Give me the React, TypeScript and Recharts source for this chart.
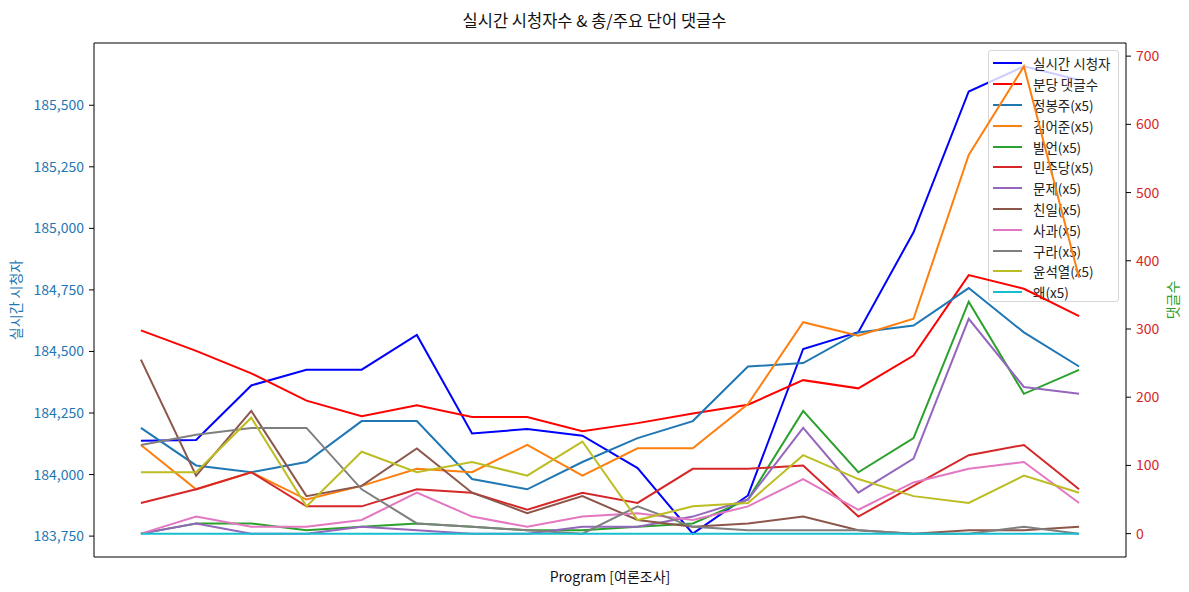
import React from "react";
import { LineChart, Line, XAxis, YAxis, ReferenceLine } from "recharts";

const slots = [0, 1, 2, 3, 4, 5, 6, 7, 8, 9, 10, 11, 12, 13, 14, 15, 16, 17];

// left axis
const viewers = [184137, 184140, 184362, 184426, 184426, 184567, 184167, 184185, 184158, 184026, 183760, 183915, 184510, 184578, 184984, 185556, 185658, 185603];

// right axis
const perMinute = [298, 268, 235, 195, 172, 188, 171, 171, 150, 162, 176, 189, 225, 213, 261, 379, 359, 319];
const jeongBongJu = [155, 100, 90, 105, 165, 165, 80, 65, 105, 140, 165, 245, 250, 295, 305, 360, 295, 245];
const kimEoJun = [130, 65, 90, 50, 70, 95, 90, 130, 85, 125, 125, 190, 310, 290, 315, 555, 685, 375];
const balEon = [0, 15, 15, 5, 10, 15, 10, 5, 5, 10, 15, 50, 180, 90, 140, 340, 205, 240];
const minjudang = [45, 65, 90, 40, 40, 65, 60, 35, 60, 45, 95, 95, 100, 25, 70, 115, 130, 65];
const munje = [0, 15, 0, 0, 10, 5, 0, 0, 10, 10, 25, 50, 155, 60, 110, 315, 215, 205];
const chinil = [255, 85, 180, 55, 70, 125, 60, 30, 55, 20, 10, 15, 25, 5, 0, 5, 5, 10];
const sagwa = [0, 25, 10, 10, 20, 60, 25, 10, 25, 30, 20, 40, 80, 35, 75, 95, 105, 45];
const gura = [130, 145, 155, 155, 65, 15, 10, 5, 0, 40, 10, 5, 5, 5, 0, 0, 10, 0];
const yoonSeokYeol = [90, 90, 170, 40, 120, 90, 105, 85, 135, 20, 40, 45, 115, 80, 55, 45, 85, 60];
const wae = [0, 0, 0, 0, 0, 0, 0, 0, 0, 0, 0, 0, 0, 0, 0, 0, 0, 0];

const leftTicks = [183750, 184000, 184250, 184500, 184750, 185000, 185250, 185500];
const rightTicks = [0, 100, 200, 300, 400, 500, 600, 700];

const WORDS = [
  { key: "w0", name: "정봉주(x5)", color: "#1f77b4", values: jeongBongJu },
  { key: "w1", name: "김어준(x5)", color: "#ff7f0e", values: kimEoJun },
  { key: "w2", name: "발언(x5)", color: "#2ca02c", values: balEon },
  { key: "w3", name: "민주당(x5)", color: "#d62728", values: minjudang },
  { key: "w4", name: "문제(x5)", color: "#9467bd", values: munje },
  { key: "w5", name: "친일(x5)", color: "#8c564b", values: chinil },
  { key: "w6", name: "사과(x5)", color: "#e377c2", values: sagwa },
  { key: "w7", name: "구라(x5)", color: "#7f7f7f", values: gura },
  { key: "w8", name: "윤석열(x5)", color: "#bcbd22", values: yoonSeokYeol },
  { key: "w9", name: "왜(x5)", color: "#17becf", values: wae },
];

const LEGEND = [
  { name: "실시간 시청자", color: "#0000ff" },
  { name: "분당 댓글수", color: "#ff0000" },
  ...WORDS.map((w) => ({ name: w.name, color: w.color })),
];

const rows = slots.map((s, i) => {
  const row: Record<string, number> = { slot: s, viewers: viewers[i], perMinute: perMinute[i] };
  WORDS.forEach((w) => (row[w.key] = w.values[i]));
  return row;
});

// matplotlib-style 5% margins
const pad = (lo: number, hi: number): [number, number] => [lo - (hi - lo) * 0.05, hi + (hi - lo) * 0.05];
const leftDomain = pad(Math.min(...viewers), Math.max(...viewers));
const rightDomain = pad(0, Math.max(...WORDS.flatMap((w) => w.values), ...perMinute));
const xDomain = pad(0, slots.length - 1);

const FONT = "'Noto Sans CJK KR', 'Noto Sans', sans-serif";
const W = 1189;
const H = 592;
const MARGIN = { top: 43, right: 0, bottom: 0, left: 0 };

// axes shared by both layers; `show` false keeps the same geometry but draws nothing
function axes(show: boolean) {
  return [
    <XAxis key="x" dataKey="slot" type="number" domain={xDomain} ticks={[]} tick={false} tickLine={false} height={35} axisLine={show ? { stroke: "#000" } : false} />,
    <YAxis
      key="yl"
      yAxisId="left"
      width={94}
      domain={leftDomain}
      ticks={leftTicks}
      allowDataOverflow
      tickSize={5}
      tickMargin={5}
      tickLine={show ? { stroke: "#000" } : false}
      axisLine={show ? { stroke: "#000" } : false}
      tick={show ? { fill: "#1f77b4", fontSize: 14, fontFamily: FONT } : false}
      tickFormatter={(v) => Number(v).toLocaleString("en-US")}
    />,
    <YAxis
      key="yr"
      yAxisId="right"
      orientation="right"
      width={63}
      domain={rightDomain}
      ticks={rightTicks}
      allowDataOverflow
      tickSize={5}
      tickMargin={5}
      tickLine={show ? { stroke: "#000" } : false}
      axisLine={show ? { stroke: "#000" } : false}
      tick={show ? { fill: "#d62728", fontSize: 14, fontFamily: FONT } : false}
    />,
  ];
}

function LegendBox() {
  return (
    <div
      style={{
        position: "absolute",
        left: 988,
        top: 50,
        width: 131,
        height: 252,
        boxSizing: "border-box",
        border: "1px solid #d6d6d6",
        borderRadius: 3,
        background: "rgba(255,255,255,0.8)",
        paddingTop: 2,
      }}
    >
      {LEGEND.map((e) => (
        <div key={e.name} style={{ display: "flex", alignItems: "center", height: 20.8 }}>
          <span style={{ display: "inline-block", marginLeft: 4, width: 29, height: 2, background: e.color }} />
          <span style={{ marginLeft: 11, fontSize: 13.5, color: "#222", whiteSpace: "nowrap" }}>{e.name}</span>
        </div>
      ))}
    </div>
  );
}

export default function App() {
  return (
    <div style={{ position: "absolute", left: 0, top: 0, width: W, height: H, background: "#fff", fontFamily: FONT }}>
      <div style={{ position: "absolute", left: 0, top: 8, width: W, textAlign: "center", fontSize: 16.5, lineHeight: "24px", color: "#111" }}>
        실시간 시청자수 &amp; 총/주요 단어 댓글수
      </div>

      {/* viewer axis layer (under the legend) */}
      <div style={{ position: "absolute", left: 0, top: 0 }}>
        <LineChart width={W} height={H} data={rows} margin={MARGIN}>
          {axes(true)}
          <ReferenceLine yAxisId="left" y={leftDomain[1]} stroke="#000" />
          <Line yAxisId="left" dataKey="viewers" stroke="#0000ff" strokeWidth={2} dot={false} isAnimationActive={false} />
        </LineChart>
      </div>

      <LegendBox />

      {/* comment axis layer (drawn over the legend) */}
      <div style={{ position: "absolute", left: 0, top: 0 }}>
        <LineChart width={W} height={H} data={rows} margin={MARGIN}>
          {axes(false)}
          <Line yAxisId="right" dataKey="perMinute" stroke="#ff0000" strokeWidth={2} dot={false} isAnimationActive={false} />
          {WORDS.map((w) => (
            <Line key={w.key} yAxisId="right" dataKey={w.key} name={w.name} stroke={w.color} strokeWidth={2} dot={false} isAnimationActive={false} />
          ))}
        </LineChart>
      </div>

      <div style={{ position: "absolute", left: 15, top: 300, transform: "translate(-50%, -50%) rotate(-90deg)", whiteSpace: "nowrap", fontSize: 14, color: "#1f77b4" }}>
        실시간 시청자
      </div>
      <div style={{ position: "absolute", left: 1172, top: 300, transform: "translate(-50%, -50%) rotate(-90deg)", whiteSpace: "nowrap", fontSize: 14, color: "#2ca02c" }}>
        댓글수
      </div>
      <div style={{ position: "absolute", left: 610, top: 576, transform: "translate(-50%, -50%)", whiteSpace: "nowrap", fontSize: 14, color: "#111" }}>
        Program [여론조사]
      </div>
    </div>
  );
}
